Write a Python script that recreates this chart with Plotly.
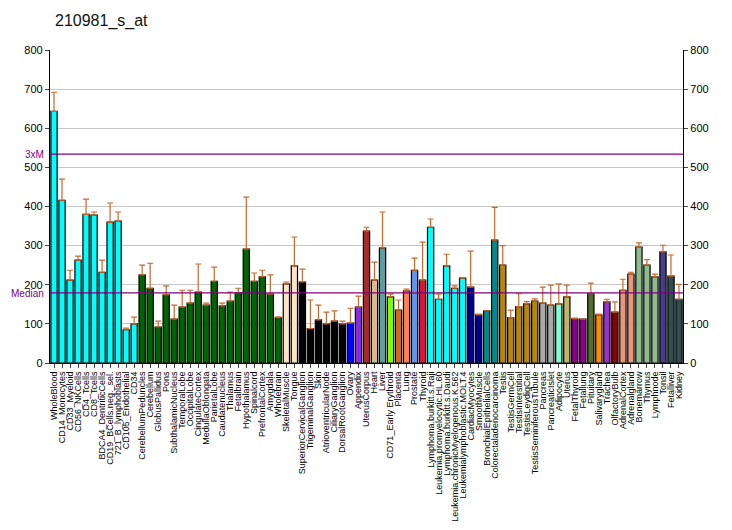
import plotly.graph_objects as go

categories = ["WholeBlood", "CD14_Monocytes", "CD33_Myeloid", "CD56_NKCells", "CD4_Tcells", "CD8_Tcells",
    "BDCA4_DentriticCells", "CD19_BCells.neg._sel.", "721_B_lymphoblasts", "CD105_Endothelial", "CD34",
    "CerebellumPeduncles", "Cerebellum", "GlobusPallidus", "Pons", "SubthalamicNucleus", "TemporalLobe",
    "OccipitalLobe", "CingulateCortex", "MedullaOblongata", "ParietalLobe", "Caudatenucleus", "Thalamus",
    "Fetalbrain", "Hypothalamus", "Spinalcord", "PrefrontalCortex", "Amygdala", "Wholebrain",
    "SkeletalMuscle", "Tongue", "SuperiorCervicalGanglion", "TrigeminalGanglion", "Skin",
    "AtrioventricularNode", "CiliaryGanglion", "DorsalRootGanglion", "Ovary", "Appendix", "UterusCorpus",
    "Heart", "Liver", "CD71_Early Erythroid", "Placenta", "Lung", "Prostate", "Thyroid",
    "Lymphoma.burkitt.s.Raji", "Leukemia.promyelocytic.HL.60", "Lymphoma.burkitt.s.Daudi",
    "Leukemia.chronicMyelogenous.K.562", "Leukemialymphoblastic.MOLT.4", "CardiacMyocytes",
    "SmoothMuscle", "BronchialEpithelialCells", "Colorectaladenocarcinoma", "Testis", "TestisGermCell",
    "TestisInterstitial", "TestisLeydigCell", "TestisSeminiferousTubule", "Pancreas", "PancreaticIslet",
    "Adipocyte", "Uterus", "FetalThyroid", "Fetallung", "Pituitary", "Salivarygland", "Trachea",
    "OlfactoryBulb", "AdrenalCortex", "Adrenalgland", "Bonemarrow", "Thymus", "Lymphnode", "Tonsil",
    "Fetalliver", "Kidney"]

values = [643, 416, 212, 263, 380, 378, 232, 360, 363, 85, 100,
    225, 191, 92, 174, 112, 143, 153, 181, 148, 209, 146, 158, 179, 291, 209, 220, 176, 116,
    202, 248, 207, 88, 110, 100, 107, 100, 102, 143, 337, 212, 294, 169, 135, 184, 237, 212,
    347, 163, 248, 191, 217, 194, 123, 133, 314, 250, 116, 144, 151, 158, 153, 148, 151, 169,
    113, 112, 177, 123, 156, 130, 186, 227, 296, 250, 220, 284, 222, 163]

error_top = [692, 470, 237, 273, 419, 386, 263, 409, 386, 89, 117,
    250, 255, 107, 197, 148, 186, 186, 253, 153, 245, 153, 181, 191, 424, 230, 237, 225, 118,
    207, 322, 240, 161, 148, 130, 133, 107, 140, 171, 347, 258, 386, 176, 161, 189, 268, 309,
    368, 176, 278, 197, 217, 286, 125, 133, 398, 300, 135, 177, 157, 164, 194, 199, 202, 199,
    115, 112, 204, 125, 163, 156, 214, 232, 307, 264, 227, 301, 276, 201]

colors = (["#00FFFF"] * 11 + ["#006400"] * 18 + ["#FFE4C4"] * 2 + ["#000000"] * 6 +
    ["#0000FF", "#8A2BE2", "#A52A2A", "#DEB887", "#5F9EA0", "#7FFF00", "#D2691E", "#FF7F50",
     "#6495ED", "#DC143C"] + ["#00FFFF"] * 5 + ["#00008B"] * 2 + ["#008B8B"] * 2 +
    ["#B8860B"] * 5 + ["#A9A9A9"] * 2 + ["#7FFFD4", "#BDB76B"] + ["#8B008B"] * 2 +
    ["#556B2F", "#FF8C00", "#9932CC", "#8B0000"] + ["#E9967A"] * 2 + ["#8FBC8F"] * 3 +
    ["#483D8B"] + ["#2F4F4F"] * 2)

median_value = 179
threexm_value = 534
y_ticks = [0, 100, 200, 300, 400, 500, 600, 700, 800]

err_plus = [max(e - v, 0) for e, v in zip(error_top, values)]

W, H = 724, 522  # page body adds an 8px margin

fig = go.Figure()
fig.add_trace(go.Bar(
    x=categories, y=values,
    marker=dict(color=colors, line=dict(color="black", width=1.2)),
    error_y=dict(type="data", array=err_plus, arrayminus=[0] * len(values), symmetric=False,
                 color="#C8692E", thickness=1.2, width=3),
    showlegend=False, hoverinfo="x+y",
))
fig.add_trace(go.Scatter(x=[categories[0]], y=[0], yaxis="y2", mode="markers",
                         marker=dict(opacity=0), showlegend=False, hoverinfo="skip"))

fig.add_shape(type="line", xref="paper", yref="y", x0=0, x1=1, y0=threexm_value, y1=threexm_value,
              line=dict(color="#800080", width=1.2))
fig.add_shape(type="line", xref="paper", yref="y", x0=0, x1=1, y0=median_value, y1=median_value,
              line=dict(color="#800080", width=1.2))
fig.add_annotation(x=0, xref="paper", y=threexm_value, yref="y", text="3xM", showarrow=False,
                   xanchor="right", xshift=-4, font=dict(color="#800080", size=10, family="Arial"))
fig.add_annotation(x=0, xref="paper", y=median_value, yref="y", text="Median", showarrow=False,
                   xanchor="right", xshift=-4, yshift=-1,
                   font=dict(color="#800080", size=10, family="Arial"))

fig.update_layout(
    width=W, height=H,
    margin=dict(l=42, r=49, t=42, b=167, autoexpand=False),
    paper_bgcolor="white", plot_bgcolor="white",
    bargap=0.22,
    font=dict(family="Arial", color="black"),
    title=dict(text="210981_s_at", x=47 / W, xanchor="left", y=1 - 12 / H, yanchor="middle",
               font=dict(size=16, family="Arial", color="#111111"), automargin=False),
    xaxis=dict(tickangle=-90, tickfont=dict(size=9), ticks="outside", ticklen=4,
               tickmode="array", tickvals=categories, ticktext=categories,
               showline=True, linecolor="black", linewidth=1, showgrid=False,
               range=[-0.5, len(categories) - 0.5], automargin=False),
    yaxis=dict(range=[0, 800], tickvals=y_ticks, ticks="outside", ticklen=4,
               showline=True, linecolor="black", linewidth=1.2,
               showgrid=True, gridcolor="#C8C8C8", gridwidth=1, zeroline=False,
               tickfont=dict(size=11), automargin=False),
    yaxis2=dict(range=[0, 800], tickvals=y_ticks, overlaying="y", side="right", ticks="outside",
                ticklen=4, showline=True, linecolor="black", linewidth=1.2, showgrid=False,
                zeroline=False, tickfont=dict(size=11), automargin=False),
)

fig.write_html("out.html")
